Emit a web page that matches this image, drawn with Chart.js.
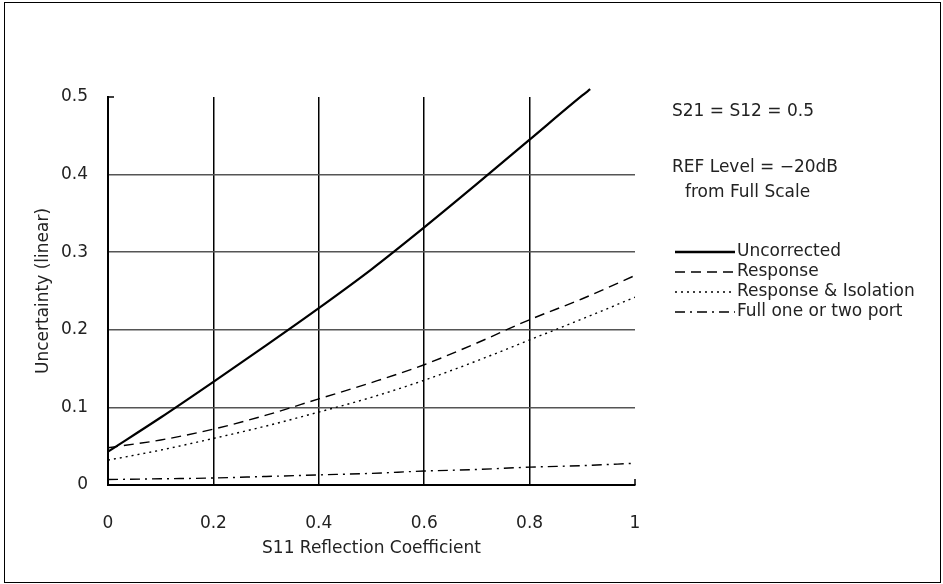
<!DOCTYPE html>
<html>
<head>
<meta charset="utf-8">
<script src="https://cdn.jsdelivr.net/npm/chart.js@4.4.1/dist/chart.umd.min.js"></script>
<style>
  html, body { margin: 0; padding: 0; background: #fff; }
  #wrap { width: 943px; height: 584px; }
</style>
</head>
<body>
<div id="wrap"><canvas id="uncChart" width="943" height="584"></canvas></div>
<script>
// S11 reflection coefficient positions (x) and uncertainty values (y)
const s11 = [0, 0.1, 0.2, 0.3, 0.4, 0.5, 0.6, 0.7, 0.8, 0.9, 1.0];
const s11Unc = [0, 0.1, 0.2, 0.3, 0.4, 0.5, 0.6, 0.7, 0.8, 0.9, 0.915];

const uncorrected = [0.043, 0.087, 0.133, 0.18, 0.228, 0.278, 0.332, 0.388, 0.445, 0.502, 0.51];
const response    = [0.048, 0.058, 0.072, 0.09, 0.111, 0.132, 0.155, 0.183, 0.213, 0.24, 0.27];
const isolation   = [0.032, 0.045, 0.06, 0.076, 0.094, 0.113, 0.135, 0.16, 0.187, 0.214, 0.242];
const fullPort    = [0.007, 0.008, 0.009, 0.011, 0.013, 0.015, 0.018, 0.02, 0.023, 0.025, 0.028];

const seriesNames = ['Uncorrected', 'Response', 'Response & Isolation', 'Full one or two port'];
const xTickLabels = ['0', '0.2', '0.4', '0.6', '0.8', '1'];
const yTickLabels = ['0', '0.1', '0.2', '0.3', '0.4', '0.5'];
const notes = ['S21 = S12 = 0.5', 'REF Level = \u221220dB', 'from Full Scale'];

const FONT = 'DejaVu Sans';
const dashes = [[], [10, 6], [2, 4], [10, 5, 2, 5]];

function pts(xs, ys) {
  return ys.map((y, i) => ({ x: xs[i], y: y }));
}

// annotations, legend samples, frame and the two little end ticks
const extras = {
  id: 'extras',
  afterDraw(chart) {
    const c = chart.ctx;
    const xs = chart.scales.x, ys = chart.scales.y;
    c.save();
    c.strokeStyle = '#000';
    c.lineWidth = 1.5;
    c.beginPath();
    c.moveTo(xs.getPixelForValue(0), ys.getPixelForValue(0.5));
    c.lineTo(xs.getPixelForValue(0) + 6, ys.getPixelForValue(0.5));
    c.moveTo(xs.getPixelForValue(1), ys.getPixelForValue(0));
    c.lineTo(xs.getPixelForValue(1), ys.getPixelForValue(0) - 6);
    c.stroke();

    c.lineWidth = 1;
    c.strokeRect(4.5, 2.5, 936, 580);

    c.fillStyle = '#222';
    c.font = '17px "' + FONT + '"';
    c.textBaseline = 'middle';
    c.textAlign = 'left';
    c.fillText(notes[0], 672, 112);
    c.fillText(notes[1], 672, 168);
    c.fillText(notes[2], 685, 193);

    seriesNames.forEach((name, i) => {
      const y = 252 + i * 20;
      c.beginPath();
      c.setLineDash(dashes[i]);
      c.lineWidth = i === 0 ? 2.5 : 1.3;
      c.moveTo(675, y);
      c.lineTo(735, y);
      c.stroke();
      c.setLineDash([]);
      c.fillText(name, 737, y);
    });
    c.restore();
  }
};

const ctx = document.getElementById('uncChart').getContext('2d');
new Chart(ctx, {
  type: 'line',
  data: {
    datasets: [
      { label: seriesNames[0], data: pts(s11Unc, uncorrected), borderWidth: 2.2, clip: false },
      { label: seriesNames[1], data: pts(s11, response), borderWidth: 1.4, borderDash: dashes[1] },
      { label: seriesNames[2], data: pts(s11, isolation), borderWidth: 1.4, borderDash: dashes[2] },
      { label: seriesNames[3], data: pts(s11, fullPort), borderWidth: 1.4, borderDash: dashes[3] }
    ].map(d => Object.assign({
      borderColor: '#000',
      backgroundColor: '#000',
      pointRadius: 0,
      tension: 0.3,
      cubicInterpolationMode: 'monotone',
      fill: false
    }, d))
  },
  options: {
    responsive: false,
    animation: false,
    layout: { padding: { left: 0, top: 97, right: 308, bottom: 0 } },
    plugins: {
      legend: { display: false },
      tooltip: { enabled: false }
    },
    scales: {
      x: {
        type: 'linear',
        min: 0,
        max: 1,
        afterFit: s => { s.height = 99; },
        border: { display: true, color: '#000', width: 2 },
        grid: {
          drawTicks: false,
          lineWidth: 1.5,
          color: c => (c.index === 5 ? 'rgba(0,0,0,0)' : '#000')
        },
        ticks: {
          stepSize: 0.2,
          padding: 28,
          color: '#222',
          maxRotation: 0,
          font: { family: FONT, size: 17 },
          callback: (v, i) => xTickLabels[i]
        },
        title: {
          display: true,
          text: 'S11 Reflection Coefficient',
          color: '#222',
          font: { family: FONT, size: 17 },
          padding: { top: 0, bottom: 25 }
        }
      },
      y: {
        type: 'linear',
        min: 0,
        max: 0.5,
        afterFit: s => { s.width = 108; },
        border: { display: true, color: '#000', width: 2 },
        grid: {
          drawTicks: false,
          lineWidth: 1.5,
          color: c => (c.index === 5 ? 'rgba(0,0,0,0)' : '#555')
        },
        ticks: {
          stepSize: 0.1,
          padding: 20,
          color: '#222',
          font: { family: FONT, size: 17 },
          callback: (v, i) => yTickLabels[i]
        },
        title: {
          display: true,
          text: 'Uncertainty (linear)',
          color: '#222',
          font: { family: FONT, size: 17 },
          padding: { top: 33, bottom: 0 }
        }
      }
    }
  },
  plugins: [extras]
});
</script>
</body>
</html>
